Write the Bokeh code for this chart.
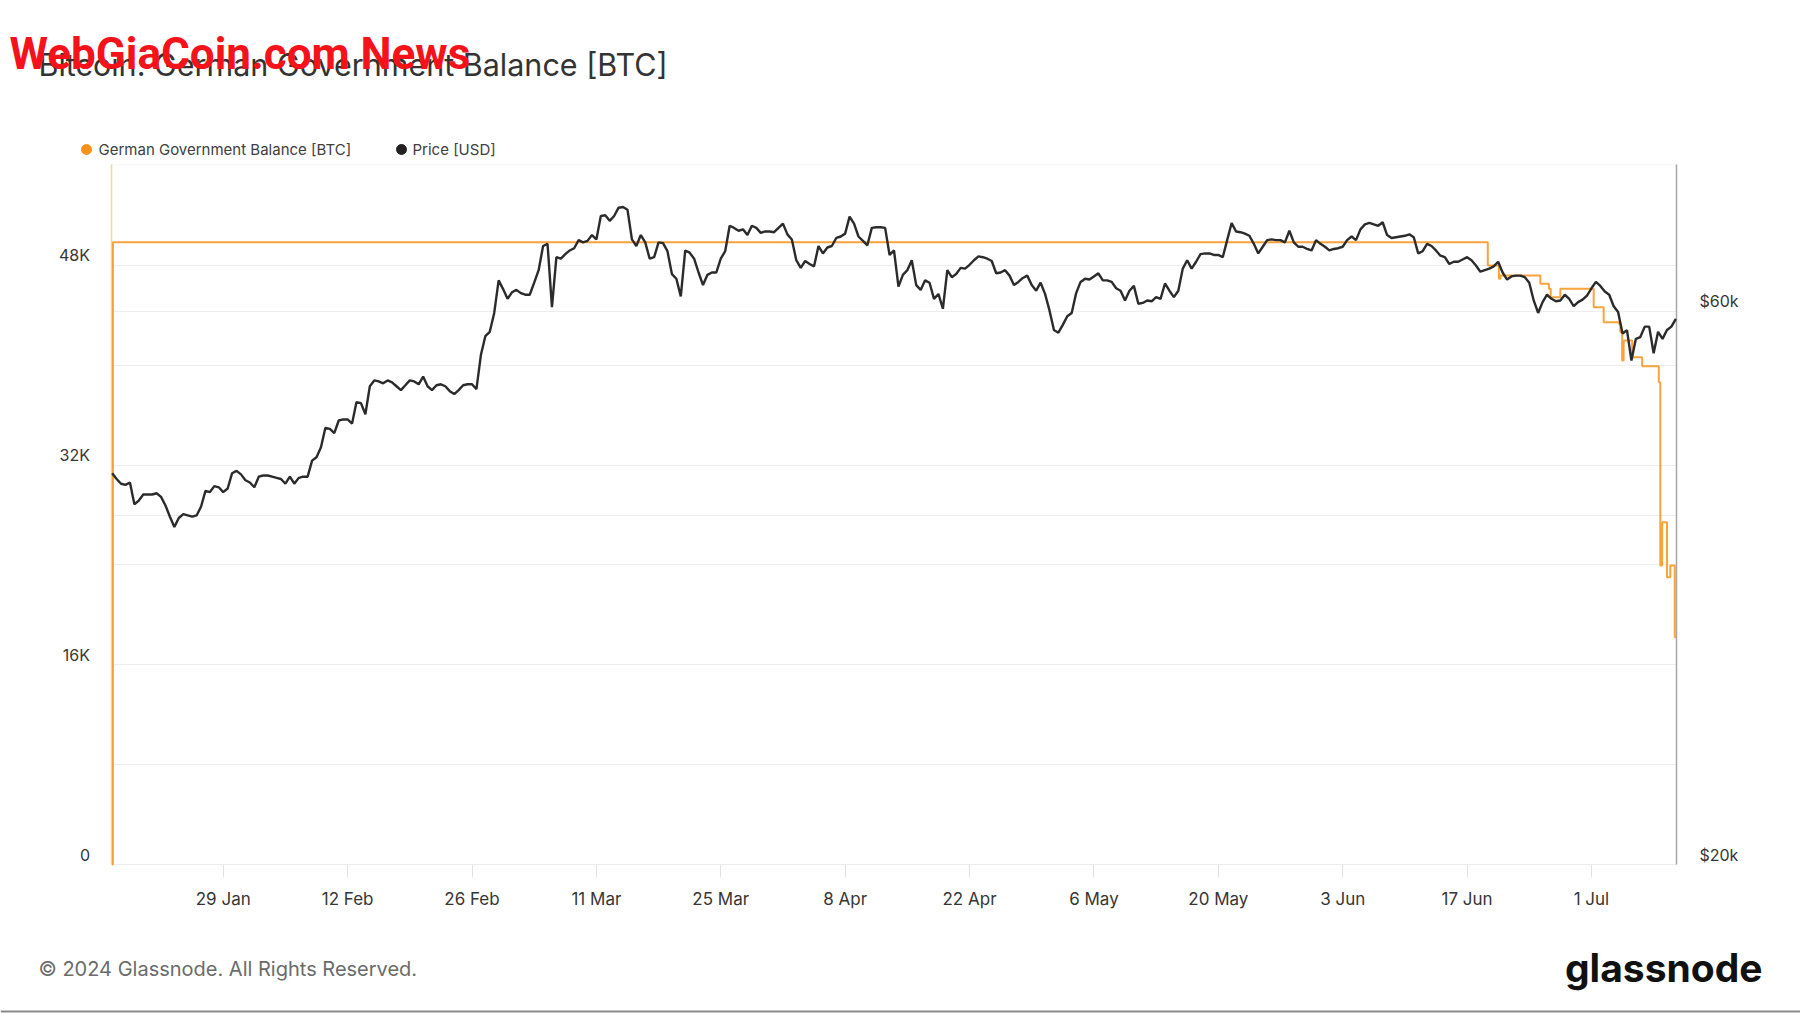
import math
import pandas as pd
from bokeh.plotting import figure
from bokeh.models import Range1d, LogScale, FixedTicker, Grid, BoxAnnotation
from bokeh.core.properties import value
from bokeh.embed import file_html
from bokeh.resources import INLINE

# ---------------- texts ----------------
TITLE = "Bitcoin: German Government Balance [BTC]"
WATERMARK = "WebGiaCoin.com News"
SERIES_NAMES = ["German Government Balance [BTC]", "Price [USD]"]
COPYRIGHT = "\u00a9 2024 Glassnode. All Rights Reserved."
LOGO = "glassnode"

# ---------------- axes ----------------
x_tick_dates = ["2024-01-29", "2024-02-12", "2024-02-26", "2024-03-11", "2024-03-25",
                "2024-04-08", "2024-04-22", "2024-05-06", "2024-05-20", "2024-06-03",
                "2024-06-17", "2024-07-01"]
x_tick_labels = ["29 Jan", "12 Feb", "26 Feb", "11 Mar", "25 Mar", "8 Apr", "22 Apr",
                 "6 May", "20 May", "3 Jun", "17 Jun", "1 Jul"]
left_ticks = [0, 16000, 32000, 48000]
left_tick_labels = ["0", "16K", "32K", "48K"]
left_grid_ticks = [0, 8000, 16000, 24000, 32000, 40000, 48000]
right_ticks = [20000, 60000]
right_tick_labels = ["$20k", "$60k"]
right_grid_ticks = [40000, 60000]
x_start, x_end = "2024-01-16 11:15", "2024-07-10 13:45"
bal_top = 56084
price_lo, price_hi = 20000, 80300

# ---------------- data ----------------
# BTC price (thousand USD), one reading every 12 hours from 2024-01-16 12:00
price_start = "2024-01-16 12:00"
price_k = [
    43.5, 43.0, 42.6, 42.5, 42.7, 40.9, 41.2, 41.7, 41.7, 41.7,
    41.8, 41.5, 40.8, 39.9, 39.1, 39.8, 40.1, 40.0, 39.9, 40.0,
    40.7, 42.0, 41.9, 42.4, 42.3, 41.9, 42.2, 43.5, 43.7, 43.4,
    42.9, 42.7, 42.3, 43.2, 43.3, 43.3, 43.2, 43.1, 43.0, 42.6,
    43.2, 42.6, 43.1, 43.2, 43.2, 44.6, 44.9, 45.8, 47.6, 47.5,
    47.1, 48.3, 48.4, 48.4, 48.0, 50.1, 50.0, 48.9, 51.7, 52.3,
    52.2, 52.0, 52.3, 52.1, 51.7, 51.3, 51.8, 52.3, 52.2, 51.9,
    52.7, 51.7, 51.3, 51.8, 51.9, 51.7, 51.2, 50.9, 51.3, 51.8,
    51.9, 51.9, 51.4, 55.0, 57.1, 57.6, 59.8, 63.8, 62.7, 61.5,
    62.3, 62.6, 62.2, 62.0, 62.0, 63.5, 65.1, 68.3, 68.6, 60.5,
    66.8, 66.6, 67.2, 67.7, 68.0, 69.1, 68.8, 69.0, 69.8, 69.2,
    72.5, 72.6, 71.8, 72.5, 73.7, 73.8, 73.4, 69.2, 68.3, 69.8,
    68.8, 66.6, 66.8, 68.8, 68.7, 67.6, 64.6, 64.0, 61.8, 67.7,
    67.4, 66.6, 64.8, 63.2, 64.5, 64.8, 64.8, 66.6, 67.6, 71.1,
    70.8, 70.4, 70.6, 69.8, 71.1, 70.8, 70.1, 70.3, 70.3, 70.2,
    70.8, 71.4, 69.9, 69.2, 66.4, 65.4, 66.3, 65.9, 65.6, 68.3,
    67.3, 68.1, 68.3, 69.4, 69.6, 70.0, 72.4, 71.4, 69.6, 69.0,
    68.4, 70.8, 70.9, 70.9, 70.8, 67.1, 67.7, 63.0, 64.5, 65.1,
    66.4, 63.2, 62.6, 63.8, 63.5, 61.5, 62.1, 60.3, 65.1, 64.2,
    64.6, 65.4, 65.3, 65.8, 66.4, 66.9, 66.8, 66.6, 66.3, 64.7,
    64.8, 65.1, 64.4, 63.2, 63.6, 64.1, 64.4, 63.2, 62.5, 63.5,
    62.1, 60.1, 57.8, 57.5, 58.4, 59.4, 59.8, 62.2, 63.6, 64.0,
    63.9, 64.3, 64.7, 63.8, 63.8, 63.6, 62.8, 62.5, 61.3, 62.5,
    63.1, 60.9, 61.0, 61.3, 61.2, 61.7, 61.5, 63.4, 62.5, 61.7,
    62.5, 65.3, 66.4, 65.3, 66.2, 67.2, 67.3, 67.3, 67.1, 67.1,
    66.8, 69.1, 71.5, 70.3, 70.2, 70.0, 69.7, 68.6, 67.3, 68.2,
    69.1, 69.2, 69.1, 69.1, 68.8, 70.4, 68.8, 68.2, 68.2, 67.9,
    67.7, 69.1, 68.6, 68.2, 67.7, 67.9, 68.0, 68.2, 69.1, 69.6,
    69.1, 70.6, 71.3, 71.5, 71.3, 71.1, 71.6, 69.8, 69.4, 69.5,
    69.6, 69.7, 69.9, 69.5, 67.3, 67.6, 68.6, 68.3, 67.7, 67.0,
    66.8, 65.9, 66.2, 66.2, 66.5, 66.8, 66.4, 65.7, 64.9, 65.1,
    65.3, 65.6, 66.2, 64.8, 63.9, 64.3, 64.4, 64.4, 64.2, 63.5,
    61.3, 59.8, 61.1, 62.0, 61.5, 61.2, 61.3, 62.0, 61.5, 60.6,
    61.1, 61.4, 61.9, 62.8, 63.6, 63.1, 62.4, 62.0, 60.6, 59.9,
    57.4, 57.8, 54.4, 56.8, 57.0, 58.2, 58.2, 55.2, 57.6, 56.8,
    57.8, 58.2, 59.1,
]

# German government balance (BTC); each value holds until the next timestamp
bal_times = ["2024-01-16 12:00", "2024-01-16 14:00", "2024-06-19 08:00", "2024-06-20 14:00",
             "2024-06-20 18:00", "2024-06-25 06:00", "2024-06-26 05:00", "2024-06-26 10:00",
             "2024-06-27 12:00", "2024-07-01 06:00", "2024-07-02 09:00", "2024-07-04 02:00",
             "2024-07-04 06:00", "2024-07-04 11:00", "2024-07-04 15:00", "2024-07-05 14:00",
             "2024-07-06 17:00", "2024-07-08 14:00", "2024-07-08 18:00", "2024-07-08 23:00",
             "2024-07-09 12:00", "2024-07-09 21:00", "2024-07-10 09:00", "2024-07-10 13:00"]
bal_btc = [0, 49858, 48000, 46930,
           47200, 46520, 46120, 45450,
           46120, 44650, 43450, 43320,
           42650, 40380, 41980, 40650,
           39920, 38640, 23960, 27430,
           23020, 23960, 18210, 18210]

# ---------------- style / layout (page pixels) ----------------
ORANGE = "#f7931a"
DARK = "#2b2b2b"
GRID = "#ededed"
TEXT = "#363636"
W, H = 1800, 1013
FR_L, FR_R, FR_T, FR_B = 111.4, 1676.0, 164.0, 864.0

t0 = pd.Timestamp(x_start).value / 1e6
t1 = pd.Timestamp(x_end).value / 1e6
mpp = (t1 - t0) / (FR_R - FR_L)
upp = bal_top / (FR_B - FR_T)
lnpp = math.log(price_hi / price_lo) / (FR_B - FR_T)

xr = Range1d(t0 - FR_L * mpp, t1 + (W - FR_R) * mpp)
yr = Range1d(-(H - FR_B) * upp, bal_top + FR_T * upp)
pr = Range1d(price_lo * math.exp(-(H - FR_B) * lnpp), price_hi * math.exp(FR_T * lnpp))


def px_x(px):
    return xr.start + px * mpp


def px_y(py):
    return yr.end - py * upp


p = figure(width=W, height=H, x_range=xr, y_range=yr, x_axis_type="datetime",
           x_axis_location=None, y_axis_location=None,
           output_backend="svg", toolbar_location=None, min_border=0)
p.outline_line_color = None
p.background_fill_color = "white"
p.border_fill_color = "white"
p.grid.visible = False
p.extra_y_ranges = {"price": pr}
p.extra_y_scales = {"price": LogScale()}

# plot area outline
p.add_layout(BoxAnnotation(left=t0, right=t1, bottom=0, top=bal_top, fill_alpha=0,
                           line_color="#e4e4e4", line_width=1, level="underlay"))
# horizontal grid lines (left and right scales)
p.add_layout(Grid(dimension=1, ticker=FixedTicker(ticks=left_grid_ticks),
                  cross_bounds=(t0, t1), grid_line_color=GRID))
p.add_layout(Grid(dimension=1, ticker=FixedTicker(ticks=right_grid_ticks), y_range_name="price",
                  cross_bounds=(t0, t1), grid_line_color=GRID))
# x tick marks below the plot area
tick_ms = [pd.Timestamp(d).value / 1e6 for d in x_tick_dates]
p.add_layout(Grid(dimension=0, ticker=FixedTicker(ticks=tick_ms),
                  cross_bounds=(-13 * upp, 0), grid_line_color="#e2e2e2"))
# thin page rule along the very bottom
p.add_layout(Grid(dimension=1, ticker=FixedTicker(ticks=[px_y(1011)]),
                  grid_line_color="#8a8a8a", grid_line_width=2))

# series
p.step(x=pd.to_datetime(bal_times), y=bal_btc, mode="after", line_color=ORANGE,
       line_width=2, line_alpha=0.85)
p.line(x=pd.date_range(price_start, periods=len(price_k), freq="12h"),
       y=[v * 1000 for v in price_k], y_range_name="price", line_color=DARK, line_width=2.4)

# axis lines (left orange, right grey)
p.add_layout(Grid(dimension=0, ticker=FixedTicker(ticks=[t0]), cross_bounds=(0, bal_top),
                  grid_line_color="#fbd3a3", grid_line_width=1.5))
p.add_layout(Grid(dimension=0, ticker=FixedTicker(ticks=[t1]), cross_bounds=(0, bal_top),
                  grid_line_color="#a6a6a6", grid_line_width=1.5))


def add_text(px, py, txt, size, color, font="Inter", align="left", style="normal"):
    p.text(x=[px_x(px)], y=[px_y(py)], text=[txt], text_font=value(font),
           text_font_size=value(f"{size}px"), text_color=color, text_align=align,
           text_baseline="middle", text_font_style=style)


# tick labels
p.text(x=tick_ms, y=[px_y(898)] * len(tick_ms), text=x_tick_labels, text_font=value("Inter"),
       text_font_size=value("17px"), text_color=TEXT, text_align="center", text_baseline="middle")
p.text(x=[px_x(89.5)] * len(left_ticks), y=left_ticks, text=left_tick_labels,
       text_font=value("Inter"), text_font_size=value("16px"), text_color=TEXT,
       text_align="right", text_baseline="middle", y_offset=-10)
p.text(x=[px_x(1699)] * len(right_ticks), y=right_ticks, text=right_tick_labels,
       y_range_name="price", text_font=value("Inter"), text_font_size=value("16px"),
       text_color=TEXT, text_align="left", text_baseline="middle", y_offset=-10)

# title, watermark, legend, footer
add_text(38, 64, TITLE, 30.5, "#333333")
add_text(9, 53, WATERMARK, 44, "#f5121b", font="Roboto", style="bold")
for dot_x, txt_x, name, col in [(86, 98, SERIES_NAMES[0], ORANGE), (401, 412, SERIES_NAMES[1], "#222222")]:
    p.scatter(x=[px_x(dot_x)], y=[px_y(149)], marker="circle", size=10,
              fill_color=col, line_color=col)
    add_text(txt_x, 149, name, 15, "#404040")
add_text(38, 968, COPYRIGHT, 20, "#6b6b6b")
add_text(1762, 967, LOGO, 39, "#111111", align="right", style="bold")

open("out.html", "w").write(file_html(p, INLINE))
